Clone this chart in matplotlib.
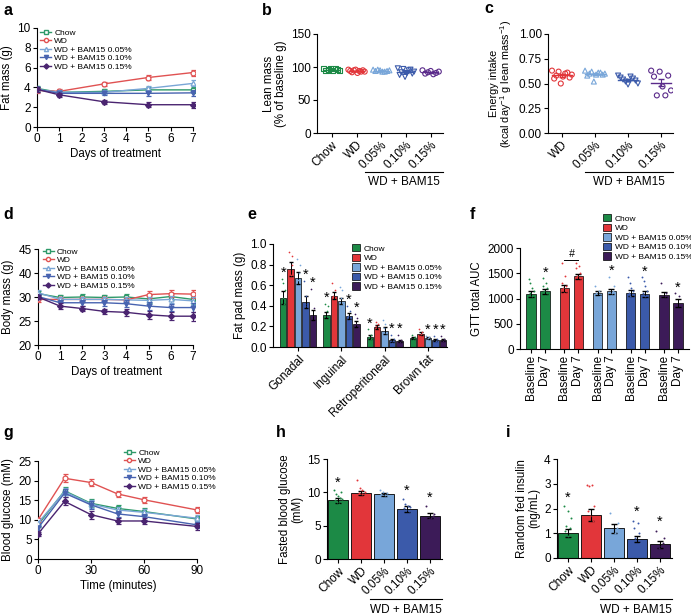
import numpy as np
import matplotlib
matplotlib.use("Agg")
import matplotlib.pyplot as plt
from matplotlib.patches import Patch
from matplotlib.lines import Line2D

plt.rcParams['font.family'] = ['Liberation Sans', 'DejaVu Sans']
plt.rcParams['mathtext.fontset'] = 'custom'
plt.rcParams['mathtext.rm'] = 'Liberation Sans'
plt.rcParams['axes.linewidth'] = 0.8
plt.rcParams['xtick.major.width'] = 0.8
plt.rcParams['ytick.major.width'] = 0.8
plt.rcParams['xtick.major.size'] = 3
plt.rcParams['ytick.major.size'] = 3
plt.rcParams['xtick.labelsize'] = 8.5
plt.rcParams['ytick.labelsize'] = 8.5

W, H = 691, 615
fig = plt.figure(figsize=(W / 100, H / 100), dpi=100)

LAB = 8.3   # axis label size
LEG = 6.0   # legend size

# ---------------- data ----------------
groups = ["Chow", "WD", "WD + BAM15 0.05%", "WD + BAM15 0.10%", "WD + BAM15 0.15%"]
short = ["Chow", "WD", "0.05%", "0.10%", "0.15%"]
bar_colors = ["#1c8a46", "#e2363a", "#78a6d9", "#3b5aaa", "#3c1b58"]
line_colors = ["#2e9a6a", "#e05252", "#7aa6d6", "#4863b0", "#4a2470"]
markers = ["s", "o", "^", "v", "D"]
mfill = ["none", "none", "none", "full", "full"]

# a: fat mass
days_a = [0, 1, 3, 5, 7]
fat_chow = [3.9, 3.5, 3.6, 3.75, 3.75]
fat_wd = [3.7, 3.6, 4.35, 5.0, 5.5]
fat_005 = [3.8, 3.5, 3.5, 3.9, 4.4]
fat_010 = [3.8, 3.4, 3.4, 3.4, 3.45]
fat_015 = [3.8, 3.25, 2.55, 2.25, 2.25]
fat_err = [0.25, 0.2, 0.2, 0.25, 0.3]

# b: lean mass (% baseline)
lean_chow = [98, 97, 96, 95, 95, 94, 96, 97]
lean_wd = [96, 95, 94, 93, 92, 91, 95, 94, 96, 93]
lean_005 = [96, 95, 94, 94, 93, 95, 96, 93]
lean_010 = [98, 97, 95, 93, 92, 91, 90, 88, 85, 96]
lean_015 = [95, 94, 93, 92, 91, 90, 89]

# c: energy intake
ei_wd = [0.63, 0.62, 0.60, 0.59, 0.58, 0.57, 0.56, 0.55, 0.50, 0.61]
ei_005 = [0.63, 0.62, 0.61, 0.60, 0.60, 0.59, 0.59, 0.58, 0.52, 0.61]
ei_010 = [0.58, 0.57, 0.56, 0.55, 0.54, 0.53, 0.52, 0.50, 0.49]
ei_015 = [0.63, 0.62, 0.58, 0.57, 0.47, 0.43, 0.38, 0.38]

# d: body mass
days_d = [0, 1, 2, 3, 4, 5, 6, 7]
bm_chow = [30.7, 29.9, 30.0, 29.9, 30.0, 29.6, 30.1, 29.5]
bm_wd = [29.5, 29.5, 29.5, 29.5, 29.4, 30.5, 30.7, 30.6]
bm_005 = [30.9, 29.5, 29.5, 29.5, 29.4, 29.3, 29.5, 29.2]
bm_010 = [30.1, 28.8, 28.8, 28.8, 28.6, 28.1, 27.8, 27.8]
bm_015 = [30.0, 28.1, 27.6, 27.0, 26.8, 26.3, 26.0, 26.0]
bm_err = [0.5, 0.6, 0.6, 0.6, 0.7, 0.8, 0.8, 0.9]
bm_ticks = [20, 25, 30, 35, 40]
bm_ticklabels = ["20", "25", "30", "40", "45"]

# e: fat pad mass
depots = ["Gonadal", "Inguinal", "Retroperitoneal", "Brown fat"]
fp_chow = [0.48, 0.31, 0.10, 0.09]
fp_wd = [0.76, 0.50, 0.19, 0.13]
fp_005 = [0.67, 0.45, 0.16, 0.09]
fp_010 = [0.44, 0.30, 0.065, 0.065]
fp_015 = [0.31, 0.22, 0.055, 0.065]
fp_err_chow = [0.06, 0.03, 0.02, 0.01]
fp_err_wd = [0.07, 0.03, 0.02, 0.015]
fp_err_005 = [0.06, 0.03, 0.03, 0.01]
fp_err_010 = [0.06, 0.03, 0.015, 0.01]
fp_err_015 = [0.05, 0.03, 0.01, 0.01]
fp_pts = [
    [[0.66, 0.62, 0.55, 0.48, 0.42, 0.35, 0.30], [0.92, 0.88, 0.80, 0.70, 0.62, 0.50], [0.85, 0.80, 0.72, 0.65, 0.55, 0.45], [0.64, 0.50, 0.42, 0.40, 0.35], [0.56, 0.38, 0.30, 0.25, 0.20]],
    [[0.42, 0.40, 0.35, 0.30, 0.26, 0.22], [0.62, 0.55, 0.50, 0.45, 0.38], [0.58, 0.55, 0.48, 0.42, 0.38], [0.40, 0.35, 0.30, 0.26, 0.22], [0.32, 0.28, 0.22, 0.18, 0.15]],
    [[0.17, 0.12, 0.10, 0.08, 0.06], [0.24, 0.22, 0.20, 0.17, 0.14], [0.26, 0.22, 0.18, 0.14, 0.10], [0.12, 0.08, 0.06, 0.04], [0.12, 0.07, 0.05, 0.03]],
    [[0.12, 0.10, 0.09, 0.07], [0.17, 0.15, 0.13, 0.11], [0.11, 0.10, 0.09, 0.07], [0.11, 0.08, 0.06, 0.04], [0.11, 0.08, 0.06, 0.04]],
]
fp_star = [[1, 0, 0, 1, 1], [1, 0, 0, 1, 1], [1, 0, 0, 1, 1], [0, 0, 1, 1, 1]]

# f: GTT AUC
gtt_labels = ["Baseline", "Day 7"]
gtt_mean = [1090, 1140, 1200, 1440, 1100, 1140, 1100, 1080, 1070, 920]
gtt_err = [60, 50, 70, 50, 40, 55, 60, 60, 50, 80]
gtt_pts = [
    [1380, 1300, 1200, 1150, 1100, 1050, 1000, 950, 900, 850],
    [1400, 1300, 1250, 1200, 1150, 1100, 1050, 1000, 950],
    [1700, 1450, 1300, 1250, 1200, 1150, 1100, 1000, 900],
    [1700, 1650, 1600, 1500, 1450, 1400, 1350, 1300, 1250],
    [1250, 1150, 1100, 1050, 1000],
    [1430, 1250, 1150, 1100, 1050, 1000],
    [1420, 1300, 1200, 1150, 1100, 1050, 1000, 950, 900, 850, 800],
    [1420, 1350, 1250, 1150, 1100, 1050, 1000, 950, 900, 850],
    [1300, 1100, 1050, 1000],
    [1100, 1050, 900, 800, 600],
]
gtt_star = [0, 1, 0, 0, 0, 1, 0, 1, 0, 1]

# g: blood glucose
time_g = [0, 15, 30, 45, 60, 90]
bg_chow = [8.7, 17.4, 14.2, 12.9, 12.1, 10.2]
bg_wd = [10.0, 20.6, 19.5, 16.6, 15.1, 12.5]
bg_005 = [9.2, 17.2, 14.0, 12.5, 11.9, 10.4]
bg_010 = [7.9, 16.8, 13.8, 11.5, 10.8, 8.7]
bg_015 = [6.4, 14.7, 11.3, 9.7, 9.7, 8.3]
bg_err = [0.5, 1.0, 1.0, 0.8, 0.8, 0.8]

# h: fasted blood glucose
fbg_mean = [8.8, 9.9, 9.7, 7.5, 6.5]
fbg_err = [0.4, 0.3, 0.2, 0.4, 0.4]
fbg_pts = [
    [10.3, 9.8, 9.5, 9.2, 9.0, 8.8, 8.6, 8.3, 8.0, 7.5, 7.2, 6.8, 10.0],
    [11.8, 10.6, 10.3, 10.1, 9.9, 9.7, 9.5, 9.3, 9.0, 8.8],
    [10.4, 10.1, 9.9, 9.7, 9.6, 9.4, 9.2, 9.0],
    [9.0, 8.3, 8.0, 7.8, 7.6, 7.4, 7.2, 6.8, 6.4, 6.0, 5.8],
    [8.0, 6.8, 6.5, 6.2, 6.0, 5.8],
]
fbg_star = [1, 0, 0, 1, 1]

# i: random fed insulin
ins_mean = [1.02, 1.75, 1.2, 0.75, 0.55]
ins_err = [0.17, 0.25, 0.17, 0.12, 0.13]
ins_pts = [
    [2.1, 1.9, 1.6, 1.3, 1.2, 1.1, 0.9, 0.8, 0.6, 0.5, 0.4, 0.3],
    [2.95, 2.9, 2.95, 2.1, 1.9, 1.7, 1.5, 1.3, 1.1, 0.9, 0.7],
    [1.8, 1.4, 1.2, 1.0, 0.8, 0.7],
    [1.5, 1.4, 1.2, 1.0, 0.8, 0.6, 0.5, 0.3, 0.2],
    [1.1, 0.8, 0.6, 0.5, 0.4, 0.3],
]
ins_star = [1, 0, 0, 1, 1]


# ---------------- helpers ----------------
def ax_px(l, t, r, b):
    ax = fig.add_axes([l / W, 1 - b / H, (r - l) / W, (b - t) / H])
    ax.spines['top'].set_visible(False)
    ax.spines['right'].set_visible(False)
    ax.tick_params(direction='out', pad=1.5)
    return ax


def panel_label(x, y, s):
    fig.text(x / W, 1 - y / H, s, fontsize=11.5, fontweight='bold', va='top', ha='left')


def jitter(n, w):
    idx = np.arange(n)
    step = 3 if n % 3 else (5 if n % 5 else 7)
    base = np.linspace(-w, w, n) if n > 1 else np.array([0.0])
    return base[(idx * step) % n]


def line_legend(ax, loc, bbox):
    handles = []
    for i in range(5):
        handles.append(Line2D([0], [0], color=line_colors[i], marker=markers[i],
                              markersize=3 if markers[i] != 'D' else 2.6,
                              markerfacecolor=line_colors[i] if mfill[i] == 'full' else 'white',
                              lw=1))
    ax.legend(handles, groups, loc=loc, bbox_to_anchor=bbox, frameon=False, fontsize=LEG,
              handlelength=1.3, handletextpad=0.4, labelspacing=0.08, borderaxespad=0,
              borderpad=0)


def line_series(ax, x, ys, err):
    for i, y in enumerate(ys):
        ax.errorbar(x, y, yerr=err, color=line_colors[i], marker=markers[i],
                    markersize=3.5 if markers[i] != 'D' else 3,
                    markerfacecolor=line_colors[i] if mfill[i] == 'full' else 'white',
                    markeredgewidth=0.9, lw=1, capsize=1.8, elinewidth=0.8, zorder=3 + i)


def bracket(x0, x1, y, text_y, text="WD + BAM15"):
    fig.add_artist(Line2D([x0 / W, x1 / W], [1 - y / H, 1 - y / H], color='black', lw=0.8))
    fig.text((x0 + x1) / 2 / W, 1 - text_y / H, text, ha='center', va='center', fontsize=8.5)


def rot_labels(ax, labels, rot=45):
    ax.set_xticklabels(labels, rotation=rot, ha='right', rotation_mode='anchor', fontsize=8.5)


def star(ax, x, y):
    ax.text(x, y, "*", ha='center', va='center', fontsize=10.5)


def bar_legend(ax, bbox):
    ax.legend([Patch(facecolor=c, edgecolor='black', lw=0.5) for c in bar_colors], groups,
              loc='upper left', bbox_to_anchor=bbox, frameon=False, fontsize=LEG,
              handlelength=1.0, handleheight=1.0, handletextpad=0.4, labelspacing=0.12,
              borderaxespad=0, borderpad=0)


# ---------------- panel a ----------------
ax = ax_px(37, 28, 195, 127)
line_series(ax, days_a, [fat_chow, fat_wd, fat_005, fat_010, fat_015], fat_err)
ax.set_xlim(0, 7.1)
ax.set_ylim(0, 10)
ax.set_xticks(range(8))
ax.set_yticks([0, 2, 4, 6, 8, 10])
ax.set_xlabel("Days of treatment", fontsize=LAB, labelpad=2)
ax.set_ylabel("Fat mass (g)", fontsize=LAB, labelpad=3)
ax.spines['left'].set_bounds(0, 10)
ax.spines['bottom'].set_bounds(0, 7)
line_legend(ax, 'upper left', (0.02, 0.99))
panel_label(3, 3, "a")

# ---------------- panel b ----------------
ax = ax_px(317, 34, 443, 133)
lean_sets = [lean_chow, lean_wd, lean_005, lean_010, lean_015]
for i, pts in enumerate(lean_sets):
    n = len(pts)
    ax.scatter(i + jitter(n, 0.33), pts, s=13, marker=markers[i] if markers[i] != 'D' else 'o',
               facecolors='none', edgecolors=bar_colors[i] if i != 4 else '#5a2a8a', linewidths=0.8, zorder=3)
    m = np.mean(pts)
    se = np.std(pts, ddof=1) / np.sqrt(n)
    col = bar_colors[i] if i != 4 else '#5a2a8a'
    ax.plot([i - 0.3, i + 0.3], [m, m], color=col, lw=1, zorder=4)
    ax.errorbar(i, m, yerr=se, color=col, capsize=2, lw=0.8, zorder=4)
ax.set_xlim(-0.6, 4.5)
ax.set_ylim(0, 150)
ax.set_yticks([0, 50, 100, 150])
ax.set_xticks(range(5))
rot_labels(ax, short)
ax.set_ylabel("Lean mass\n(% of baseline g)", fontsize=LAB, labelpad=3, linespacing=1.0)
bracket(365, 443, 172, 182)
panel_label(262, 3, "b")

# ---------------- panel c ----------------
ax = ax_px(548, 34, 673, 133)
ei_sets = [ei_wd, ei_005, ei_010, ei_015]
for j, pts in enumerate(ei_sets):
    i = j + 1
    n = len(pts)
    col = bar_colors[i] if i != 4 else '#5a2a8a'
    ax.scatter(j + jitter(n, 0.3), pts, s=13, marker=markers[i] if markers[i] != 'D' else 'o',
               facecolors='none', edgecolors=col, linewidths=0.8, zorder=3)
    m = np.mean(pts)
    se = np.std(pts, ddof=1) / np.sqrt(n)
    ax.plot([j - 0.3, j + 0.3], [m, m], color=col, lw=1, zorder=4)
    ax.errorbar(j, m, yerr=se, color=col, capsize=2, lw=0.8, zorder=4)
ax.set_xlim(-0.42, 3.36)
ax.set_ylim(0, 1.0)
ax.set_yticks([0, 0.25, 0.5, 0.75, 1.0])
ax.set_yticklabels(["0.00", "0.25", "0.50", "0.75", "1.00"])
ax.set_xticks(range(4))
rot_labels(ax, short[1:])
ax.set_ylabel("Energy intake\n(kcal day$^{-1}$ g lean mass$^{-1}$)", fontsize=7.8, labelpad=3, linespacing=1.0)
bracket(585, 673, 172, 182)
panel_label(484, 1, "c")

# ---------------- panel d ----------------
ax = ax_px(38, 249, 195, 345)
line_series(ax, days_d, [bm_chow, bm_wd, bm_005, bm_010, bm_015], bm_err)
ax.set_xlim(0, 7.1)
ax.set_ylim(20, 40)
ax.set_yticks(bm_ticks)
ax.set_yticklabels(bm_ticklabels)
ax.set_xticks(range(8))
ax.spines['left'].set_bounds(20, 40)
ax.spines['bottom'].set_bounds(0, 7)
ax.set_xlabel("Days of treatment", fontsize=LAB, labelpad=2)
ax.set_ylabel("Body mass (g)", fontsize=LAB, labelpad=3)
line_legend(ax, 'upper left', (0.03, 1.01))
panel_label(3, 207, "d")

# ---------------- panel e ----------------
ax = ax_px(273, 244, 447, 347)
fp_means = [fp_chow, fp_wd, fp_005, fp_010, fp_015]
fp_errs = [fp_err_chow, fp_err_wd, fp_err_005, fp_err_010, fp_err_015]
xg = np.arange(len(depots))
bw = 0.15
step = 0.172
for k in range(5):
    xs = xg + (k - 2) * step
    ax.bar(xs, fp_means[k], width=bw, color=bar_colors[k], edgecolor='black', linewidth=0.5, zorder=2)
    ax.errorbar(xs, fp_means[k], yerr=fp_errs[k], fmt='none', ecolor='black', capsize=1.5, lw=0.7, zorder=3)
    for g in range(4):
        pts = fp_pts[g][k]
        ax.scatter(xs[g] + jitter(len(pts), 0.035), pts, s=1.5, color=bar_colors[k], zorder=4, linewidths=0)
        if fp_star[g][k]:
            top = max(max(pts), fp_means[k][g] + fp_errs[k][g])
            star(ax, xs[g], top + 0.06)
ax.set_xlim(-0.58, 3.44)
ax.set_ylim(0, 1.0)
ax.set_yticks([0, 0.2, 0.4, 0.6, 0.8, 1.0])
ax.set_yticklabels(["0.0", "0.2", "0.4", "0.6", "0.8", "1.0"])
ax.set_xticks(xg)
rot_labels(ax, depots)
ax.set_ylabel("Fat pad mass (g)", fontsize=LAB, labelpad=3)
bar_legend(ax, ((352 - 273) / 174, 1.0))
panel_label(247, 207, "e")

# ---------------- panel f ----------------
ax = ax_px(520, 248, 689, 349)
xf = []
for p in range(5):
    xf += [p - 0.21, p + 0.21]
xf = np.array(xf)
for b in range(10):
    k = b // 2
    ax.bar(xf[b], gtt_mean[b], width=0.29, color=bar_colors[k], edgecolor='black', linewidth=0.5, zorder=2)
    ax.errorbar(xf[b], gtt_mean[b], yerr=gtt_err[b], fmt='none', ecolor='black', capsize=2, lw=0.7, zorder=3)
    pts = gtt_pts[b]
    ax.scatter(xf[b] + jitter(len(pts), 0.08), pts, s=1.8, color=bar_colors[k], zorder=4, linewidths=0)
    if gtt_star[b]:
        star(ax, xf[b], max(max(pts), gtt_mean[b] + gtt_err[b]) + 110)
ax.plot([xf[2], xf[3]], [1760, 1760], color='black', lw=0.7)
ax.text((xf[2] + xf[3]) / 2, 1790, "#", ha='center', va='bottom', fontsize=7.5, style='italic')
ax.set_xlim(-0.55, 4.55)
ax.set_ylim(0, 2000)
ax.set_yticks([0, 500, 1000, 1500, 2000])
ax.set_xticks(xf)
ax.set_xticklabels(gtt_labels * 5, rotation=90, fontsize=8.5, va='top', ha='center')
ax.set_ylabel("GTT total AUC", fontsize=LAB, labelpad=3)
bar_legend(ax, ((603 - 520) / 169, 1 + (248 - 214) / 101))
panel_label(470, 207, "f")

# ---------------- panel g ----------------
ax = ax_px(38, 461, 199, 559)
line_series(ax, time_g, [bg_chow, bg_wd, bg_005, bg_010, bg_015], bg_err)
ax.set_xlim(0, 91)
ax.set_ylim(0, 25)
ax.set_xticks([0, 30, 60, 90])
ax.set_yticks([0, 5, 10, 15, 20, 25])
ax.spines['left'].set_bounds(0, 25)
ax.spines['bottom'].set_bounds(0, 90)
ax.set_xlabel("Time (minutes)", fontsize=LAB, labelpad=2)
ax.set_ylabel("Blood glucose (mM)", fontsize=LAB, labelpad=3)
line_legend(ax, 'upper left', ((124 - 38) / 161, 1 + (461 - 449) / 98))
panel_label(3, 425, "g")

# ---------------- panel h ----------------
ax = ax_px(327, 459, 442, 559)
xb = np.arange(5)
for k in range(5):
    ax.bar(k, fbg_mean[k], width=0.85, color=bar_colors[k], edgecolor='black', linewidth=0.6, zorder=2)
    ax.errorbar(k, fbg_mean[k], yerr=fbg_err[k], fmt='none', ecolor='black', capsize=2.5, lw=0.8, zorder=3)
    pts = fbg_pts[k]
    ax.scatter(k + jitter(len(pts), 0.18), pts, s=2, color=bar_colors[k], zorder=4, linewidths=0)
    if fbg_star[k]:
        star(ax, k, max(max(pts), fbg_mean[k] + fbg_err[k]) + 1.2)
ax.set_xlim(-0.48, 4.52)
ax.set_ylim(0, 15)
ax.set_yticks([0, 5, 10, 15])
ax.set_xticks(xb)
rot_labels(ax, short)
ax.set_ylabel("Fasted blood glucose\n(mM)", fontsize=LAB, labelpad=3, linespacing=1.0)
bracket(370, 442, 599, 610)
panel_label(276, 425, "h")

# ---------------- panel i ----------------
ax = ax_px(557, 459, 672, 558)
for k in range(5):
    ax.bar(k, ins_mean[k], width=0.85, color=bar_colors[k], edgecolor='black', linewidth=0.6, zorder=2)
    ax.errorbar(k, ins_mean[k], yerr=ins_err[k], fmt='none', ecolor='black', capsize=2.5, lw=0.8, zorder=3)
    pts = ins_pts[k]
    ax.scatter(k + jitter(len(pts), 0.18), pts, s=2, color=bar_colors[k], zorder=4, linewidths=0)
    if ins_star[k]:
        star(ax, k, max(max(pts), ins_mean[k] + ins_err[k]) + 0.35)
ax.set_xlim(-0.48, 4.52)
ax.set_ylim(0, 4)
ax.set_yticks([0, 1, 2, 3, 4])
ax.set_xticks(xb)
rot_labels(ax, short)
ax.set_ylabel("Random fed insulin\n(ng/mL)", fontsize=LAB, labelpad=3, linespacing=1.0)
bracket(600, 672, 599, 610)
panel_label(506, 425, "i")

fig.savefig("out.png", dpi=100)
